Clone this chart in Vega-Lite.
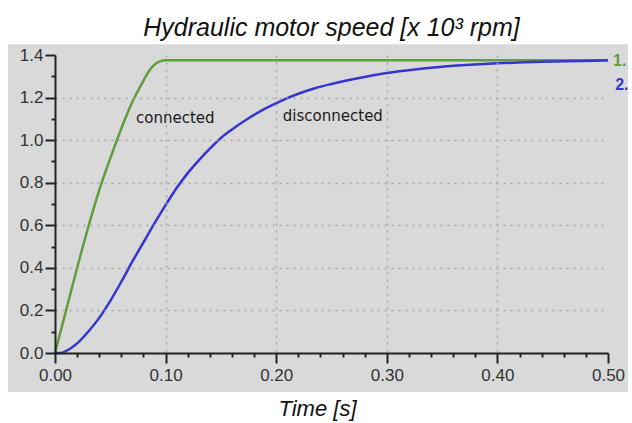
{
  "$schema": "https://vega.github.io/schema/vega-lite/v6.json",
  "width": 553,
  "height": 298,
  "autosize": {"type": "none"},
  "padding": {"left": 55, "top": 55, "right": 24, "bottom": 70},
  "background": "white",
  "title": {
    "text": "Hydraulic motor speed [x 10³ rpm]",
    "font": "Liberation Sans",
    "fontStyle": "italic",
    "fontWeight": "normal",
    "fontSize": 25,
    "color": "#111111",
    "anchor": "middle",
    "offset": 3
  },
  "config": {"view": {"stroke": null}},
  "datasets": {
    "curves": [
      {"t": 0.0, "speed": 0.0, "series": "connected"},
      {"t": 0.005, "speed": 0.1, "series": "connected"},
      {"t": 0.01, "speed": 0.2, "series": "connected"},
      {"t": 0.02, "speed": 0.4, "series": "connected"},
      {"t": 0.03, "speed": 0.59, "series": "connected"},
      {"t": 0.04, "speed": 0.765, "series": "connected"},
      {"t": 0.05, "speed": 0.915, "series": "connected"},
      {"t": 0.06, "speed": 1.055, "series": "connected"},
      {"t": 0.07, "speed": 1.18, "series": "connected"},
      {"t": 0.08, "speed": 1.28, "series": "connected"},
      {"t": 0.085, "speed": 1.325, "series": "connected"},
      {"t": 0.09, "speed": 1.355, "series": "connected"},
      {"t": 0.095, "speed": 1.37, "series": "connected"},
      {"t": 0.1, "speed": 1.375, "series": "connected"},
      {"t": 0.5, "speed": 1.375, "series": "connected"},
      {"t": 0.0, "speed": 0.0, "series": "disconnected"},
      {"t": 0.005, "speed": 0.0, "series": "disconnected"},
      {"t": 0.01, "speed": 0.01, "series": "disconnected"},
      {"t": 0.015, "speed": 0.025, "series": "disconnected"},
      {"t": 0.02, "speed": 0.045, "series": "disconnected"},
      {"t": 0.03, "speed": 0.1, "series": "disconnected"},
      {"t": 0.04, "speed": 0.165, "series": "disconnected"},
      {"t": 0.05, "speed": 0.245, "series": "disconnected"},
      {"t": 0.06, "speed": 0.335, "series": "disconnected"},
      {"t": 0.07, "speed": 0.43, "series": "disconnected"},
      {"t": 0.08, "speed": 0.52, "series": "disconnected"},
      {"t": 0.09, "speed": 0.61, "series": "disconnected"},
      {"t": 0.1, "speed": 0.695, "series": "disconnected"},
      {"t": 0.11, "speed": 0.775, "series": "disconnected"},
      {"t": 0.12, "speed": 0.845, "series": "disconnected"},
      {"t": 0.13, "speed": 0.905, "series": "disconnected"},
      {"t": 0.14, "speed": 0.96, "series": "disconnected"},
      {"t": 0.15, "speed": 1.01, "series": "disconnected"},
      {"t": 0.16, "speed": 1.05, "series": "disconnected"},
      {"t": 0.175, "speed": 1.103, "series": "disconnected"},
      {"t": 0.19, "speed": 1.148, "series": "disconnected"},
      {"t": 0.205, "speed": 1.186, "series": "disconnected"},
      {"t": 0.22, "speed": 1.218, "series": "disconnected"},
      {"t": 0.235, "speed": 1.244, "series": "disconnected"},
      {"t": 0.25, "speed": 1.264, "series": "disconnected"},
      {"t": 0.275, "speed": 1.292, "series": "disconnected"},
      {"t": 0.3, "speed": 1.315, "series": "disconnected"},
      {"t": 0.325, "speed": 1.332, "series": "disconnected"},
      {"t": 0.35, "speed": 1.345, "series": "disconnected"},
      {"t": 0.375, "speed": 1.354, "series": "disconnected"},
      {"t": 0.4, "speed": 1.361, "series": "disconnected"},
      {"t": 0.425, "speed": 1.366, "series": "disconnected"},
      {"t": 0.45, "speed": 1.369, "series": "disconnected"},
      {"t": 0.475, "speed": 1.372, "series": "disconnected"},
      {"t": 0.5, "speed": 1.375, "series": "disconnected"}
    ],
    "notes": [
      {"t": 0.0733, "speed": 1.104, "text": "connected"},
      {"t": 0.206, "speed": 1.113, "text": "disconnected"}
    ],
    "ids": [
      {"t": 0.5045, "speed": 1.373, "text": "1.", "series": "connected"},
      {"t": 0.5065, "speed": 1.26, "text": "2.", "series": "disconnected"}
    ]
  },
  "resolve": {"axis": {"x": "independent", "y": "independent"}},
  "layer": [
    {
      "description": "grey panel behind plot and tick labels, with the minor ticks",
      "data": {"values": [{}]},
      "mark": {"type": "rect", "fill": "#d9d9d9"},
      "encoding": {
        "x": {
          "datum": -0.0425, "type": "quantitative",
          "scale": {"domain": [0, 0.5], "nice": false, "zero": false},
          "axis": {
            "orient": "bottom", "zindex": 1, "title": null, "labels": false,
            "domain": false, "grid": false, "tickSize": 4, "tickWidth": 2, "tickColor": "#222222",
            "values": [0.02, 0.04, 0.06, 0.08, 0.12, 0.14, 0.16, 0.18, 0.22, 0.24, 0.26, 0.28, 0.32, 0.34, 0.36, 0.38, 0.42, 0.44, 0.46, 0.48]
          }
        },
        "x2": {"datum": 0.518},
        "y": {
          "datum": -0.183, "type": "quantitative",
          "scale": {"domain": [0, 1.4], "nice": false, "zero": false},
          "axis": {
            "orient": "left", "zindex": 1, "title": null, "labels": false,
            "domain": false, "grid": false, "tickSize": 4, "tickWidth": 2, "tickColor": "#222222",
            "values": [0.1, 0.3, 0.5, 0.7, 0.9, 1.1, 1.3]
          }
        },
        "y2": {"datum": 1.451}
      }
    },
    {
      "description": "speed curves with the main axes",
      "data": {"name": "curves"},
      "mark": {"type": "line", "strokeWidth": 2.5, "interpolate": "monotone"},
      "encoding": {
        "x": {
          "field": "t", "type": "quantitative",
          "scale": {"domain": [0, 0.5], "nice": false, "zero": false},
          "axis": {
            "orient": "bottom", "zindex": 1, "title": "Time [s]",
            "values": [0, 0.1, 0.2, 0.3, 0.4, 0.5], "format": ".2f", "labelFlush": false,
            "labelFont": "Liberation Sans", "labelFontSize": 17, "labelColor": "#333333", "labelPadding": 4,
            "tickSize": 10, "tickWidth": 2, "tickColor": "#222222",
            "domainWidth": 2, "domainColor": "#222222", "grid": false,
            "titleFont": "Liberation Sans", "titleFontStyle": "italic", "titleFontWeight": "normal",
            "titleFontSize": 22, "titleColor": "#111111", "titlePadding": 15, "titleX": 262
          }
        },
        "y": {
          "field": "speed", "type": "quantitative",
          "scale": {"domain": [0, 1.4], "nice": false, "zero": false},
          "axis": {
            "orient": "left", "zindex": 1, "title": null,
            "values": [0, 0.2, 0.4, 0.6, 0.8, 1.0, 1.2, 1.4], "format": ".1f", "labelFlush": false,
            "labelFont": "Liberation Sans", "labelFontSize": 17, "labelColor": "#333333", "labelPadding": 2,
            "tickSize": 10, "tickWidth": 2, "tickColor": "#222222",
            "domainWidth": 2, "domainColor": "#222222", "grid": false
          }
        },
        "color": {
          "field": "series", "type": "nominal",
          "scale": {"domain": ["connected", "disconnected"], "range": ["#5f9e3c", "#3535cf"]},
          "legend": null
        }
      }
    },
    {
      "description": "curve annotations, carrying the dotted grid",
      "data": {"name": "notes"},
      "mark": {"type": "text", "align": "left", "baseline": "middle", "font": "DejaVu Sans", "fontSize": 15, "color": "#1a1a1a"},
      "encoding": {
        "x": {
          "field": "t", "type": "quantitative",
          "scale": {"domain": [0, 0.5], "nice": false, "zero": false},
          "axis": {
            "orient": "bottom", "zindex": 1, "title": null, "labels": false, "ticks": false, "domain": false,
            "values": [0.1, 0.2, 0.3, 0.4], "grid": true,
            "gridColor": "#a6a6a6", "gridDash": [2, 5], "gridWidth": 1.5
          }
        },
        "y": {
          "field": "speed", "type": "quantitative",
          "scale": {"domain": [0, 1.4], "nice": false, "zero": false},
          "axis": {
            "orient": "left", "zindex": 1, "title": null, "labels": false, "ticks": false, "domain": false,
            "values": [0.2, 0.4, 0.6, 0.8, 1.0, 1.2], "grid": true,
            "gridColor": "#a6a6a6", "gridDash": [2, 5], "gridWidth": 1.5
          }
        },
        "text": {"field": "text"}
      }
    },
    {
      "description": "series numbers at the right end",
      "data": {"name": "ids"},
      "mark": {"type": "text", "align": "left", "baseline": "middle", "font": "Liberation Sans", "fontSize": 16, "fontWeight": "bold"},
      "encoding": {
        "x": {"field": "t", "type": "quantitative", "scale": {"domain": [0, 0.5], "nice": false, "zero": false}, "axis": null},
        "y": {"field": "speed", "type": "quantitative", "scale": {"domain": [0, 1.4], "nice": false, "zero": false}, "axis": null},
        "color": {
          "field": "series", "type": "nominal",
          "scale": {"domain": ["connected", "disconnected"], "range": ["#5f9e3c", "#3535cf"]},
          "legend": null
        },
        "text": {"field": "text"}
      }
    }
  ]
}
